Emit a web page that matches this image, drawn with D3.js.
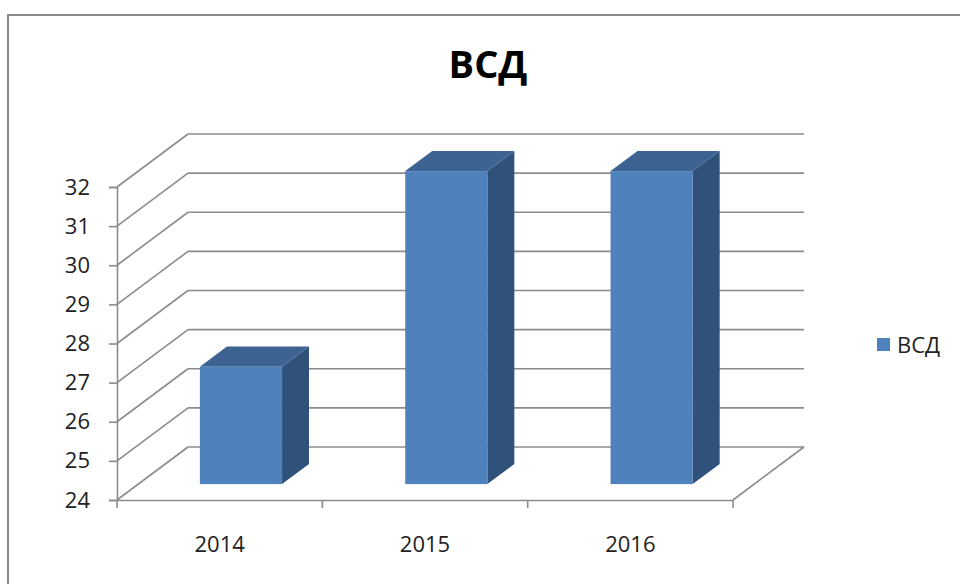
<!DOCTYPE html>
<html>
<head>
<meta charset="utf-8">
<script src="https://cdn.jsdelivr.net/npm/d3@7"></script>
<style>
  body { margin: 0; background: #fff; }
  svg { display: block; font-family: "Open Sans", sans-serif; }
</style>
</head>
<body>
<div id="chart"></div>
<script>
// Data
const title = 'ВСД';
const seriesName = 'ВСД';
const categories = ['2014', '2015', '2016'];
const values = [27, 32, 32];
const yDomain = [24, 32];

const width = 960, height = 584;

const svg = d3.select('#chart')
    .append('svg')
    .attr('width', width)
    .attr('height', height);

// Chart frame
svg.append('path')
    .attr('d', 'M8,600 L8,15 L970,15')
    .attr('fill', 'none')
    .attr('stroke', '#8a8a8a')
    .attr('stroke-width', 2);

// Title
svg.append('text')
    .attr('x', 488)
    .attr('y', 78)
    .attr('text-anchor', 'middle')
    .attr('font-size', 38)
    .attr('font-weight', 'bold')
    .attr('fill', '#000')
    .text(title);

// Scales (front plane)
const x = d3.scaleBand().domain(categories).range([117, 733]);
const y = d3.scaleLinear().domain(yDomain).range([500, 187]);

// Depth offset of the back wall
const depthX = 71, depthY = -53;
const gridColor = '#8c8c8c';

const walls = svg.append('g')
    .attr('fill', 'none')
    .attr('stroke', gridColor)
    .attr('stroke-width', 1.6);

const ticks = y.ticks(8);

// Side wall diagonals
walls.selectAll('.diag')
    .data(ticks)
    .enter()
    .append('line')
    .attr('x1', x.range()[0])
    .attr('y1', d => y(d))
    .attr('x2', x.range()[0] + depthX)
    .attr('y2', d => y(d) + depthY);

// Back wall gridlines
walls.selectAll('.grid')
    .data(ticks)
    .enter()
    .append('line')
    .attr('x1', x.range()[0] + depthX)
    .attr('y1', d => y(d) + depthY)
    .attr('x2', x.range()[1] + depthX)
    .attr('y2', d => y(d) + depthY);

// Floor: right diagonal
walls.append('line')
    .attr('x1', x.range()[1])
    .attr('y1', y(yDomain[0]))
    .attr('x2', x.range()[1] + depthX)
    .attr('y2', y(yDomain[0]) + depthY);

// Y axis
const yAxis = d3.axisLeft(y).tickValues(ticks).tickSize(8).tickPadding(19);
const gy = svg.append('g')
    .attr('transform', `translate(${x.range()[0]},0)`)
    .call(yAxis);
gy.select('.domain').attr('stroke', gridColor).attr('stroke-width', 1.6);
gy.selectAll('.tick line').attr('stroke', gridColor).attr('stroke-width', 1.6);
gy.selectAll('.tick text')
    .attr('font-size', 22)
    .attr('font-family', '"Open Sans", sans-serif')
    .attr('fill', '#222');

// X axis
const xAxis = d3.axisBottom(x).tickSize(0).tickPadding(36);
const gx = svg.append('g')
    .attr('transform', `translate(0,${y(yDomain[0])})`)
    .call(xAxis);
gx.select('.domain').attr('stroke', gridColor).attr('stroke-width', 1.6);
gx.selectAll('.tick text')
    .attr('font-size', 22)
    .attr('font-family', '"Open Sans", sans-serif')
    .attr('fill', '#222');

// Category boundary ticks
const edges = categories.map(c => x(c)).concat([x.range()[1]]);
gx.selectAll('.edge')
    .data(edges)
    .enter()
    .append('line')
    .attr('x1', d => d)
    .attr('x2', d => d)
    .attr('y1', 0)
    .attr('y2', 8)
    .attr('stroke', gridColor)
    .attr('stroke-width', 1.6);

// 3D bars
const f0 = 0.3, f1 = 0.68;
const barW = x.bandwidth() * 0.4;
const bdx = (f1 - f0) * depthX, bdy = (f1 - f0) * depthY;

const bars = svg.append('g');
categories.forEach((c, i) => {
    const cx = x(c) + x.bandwidth() / 2 + f0 * depthX;
    const xl = cx - barW / 2, xr = cx + barW / 2;
    const yt = y(values[i]) + f0 * depthY;
    const yb = y(yDomain[0]) + f0 * depthY;
    const g = bars.append('g');
    // side
    g.append('path')
        .attr('d', `M${xr},${yt} L${xr + bdx},${yt + bdy} L${xr + bdx},${yb + bdy} L${xr},${yb} Z`)
        .attr('fill', '#30527a');
    // top
    g.append('path')
        .attr('d', `M${xl},${yt} L${xl + bdx},${yt + bdy} L${xr + bdx},${yt + bdy} L${xr},${yt} Z`)
        .attr('fill', '#3c6391');
    // front
    g.append('rect')
        .attr('x', xl)
        .attr('y', yt)
        .attr('width', barW)
        .attr('height', yb - yt)
        .attr('fill', '#4f81bd');
});

// Legend
const legend = svg.append('g').attr('transform', 'translate(877,338)');
legend.append('rect')
    .attr('width', 13)
    .attr('height', 13)
    .attr('fill', '#4f81bd');
legend.append('text')
    .attr('x', 20)
    .attr('y', 15)
    .attr('font-size', 22)
    .attr('fill', '#222')
    .text(seriesName);
</script>
</body>
</html>
